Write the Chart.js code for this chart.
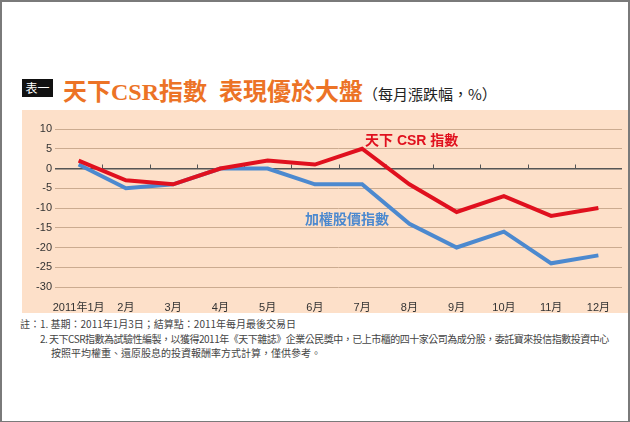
<!DOCTYPE html>
<html>
<head>
<meta charset="utf-8">
<script src="https://cdn.jsdelivr.net/npm/chart.js@4"></script>
<style>
  body { margin: 0; background: #fff; }
  #frame {
    position: relative; width: 630px; height: 422px; box-sizing: border-box;
    border: 2px solid #7a7a7a; border-bottom-width: 1px; background: #fff; overflow: hidden;
    font-family: "Liberation Sans", "Noto Sans CJK TC", sans-serif;
  }
  #tag {
    position: absolute; left: 20px; top: 77px; width: 31px; height: 18px;
    background: #111; color: #fff; font-size: 12px; line-height: 18px; text-align: center;
    font-family: "Noto Sans CJK TC", sans-serif;
  }
  #title {
    position: absolute; left: 61px; top: 75px; white-space: nowrap;
    color: #ec7326; font-size: 24px; font-weight: bold; line-height: 30px;
    font-family: "Liberation Serif", "Noto Sans CJK TC", serif;
  }
  #title small {
    color: #222; font-size: 15px; font-weight: normal;
    font-family: "Noto Sans CJK TC", sans-serif;
  }
  #panel {
    position: absolute; left: 20px; top: 108px; width: 610px; height: 203px; background: #fde0c9;
  }
  #chart { position: absolute; left: 0; top: 0; }
  .lbl {
    position: absolute; font-size: 14px; font-weight: bold; white-space: nowrap;
    font-family: "Liberation Sans", "Noto Sans CJK TC", sans-serif;
  }
  #notes {
    position: absolute; left: 18px; top: 315px; font-size: 10px; line-height: 14.5px; color: #444;
    font-family: "Noto Sans CJK TC", sans-serif; white-space: nowrap;
  }
</style>
</head>
<body>
<div id="frame">
  <div id="tag">表一</div>
  <div id="title">天下CSR指數&nbsp;&nbsp;表現優於大盤<small>（每月漲跌幅，%）</small></div>
  <div id="panel">
    <canvas id="chart" width="608" height="203"></canvas>
    <div class="lbl" style="left:343px; top:19px; color:#e0101e;">天下 CSR 指數</div>
    <div class="lbl" style="left:283px; top:98px; color:#4c89cf;">加權股價指數</div>
  </div>
  <div id="notes">
    <div>註：1. 基期：2011年1月3日；結算點：2011年每月最後交易日</div>
    <div style="padding-left:20px; letter-spacing:-0.5px;">2. 天下CSR指數為試驗性編製，以獲得2011年《天下雜誌》企業公民獎中，已上市櫃的四十家公司為成分股，委託寶來投信指數投資中心</div>
    <div style="padding-left:31px;">按照平均權重、還原股息的投資報酬率方式計算，僅供參考。</div>
  </div>
</div>
<script>
const months = ["2011年1月", "2月", "3月", "4月", "5月", "6月", "7月", "8月", "9月", "10月", "11月", "12月"];
const csrIndex = [2, -3, -4, 0, 2, 1, 5, -4, -11, -7, -12, -10];
const taiex = [1, -5, -4, 0, 0, -4, -4, -14, -20, -16, -24, -22];
const yTicks = [10, 5, 0, -5, -10, -15, -20, -25, -30];

// small upward ticks on the zero line, between months
const zeroTicks = {
  id: "zeroTicks",
  beforeDatasetsDraw(chart) {
    const x = chart.scales.x, y = chart.scales.y;
    const y0 = y.getPixelForValue(0);
    const c = chart.ctx;
    c.save();
    c.strokeStyle = "#555";
    c.lineWidth = 1;
    for (let i = 0; i < months.length - 1; i++) {
      const px = Math.round((x.getPixelForTick(i) + x.getPixelForTick(i + 1)) / 2) + 0.5;
      c.beginPath();
      c.moveTo(px, y0);
      c.lineTo(px, y0 - 4);
      c.stroke();
    }
    c.restore();
  },
};

new Chart(document.getElementById("chart"), {
  type: "line",
  data: {
    labels: months,
    datasets: [
      { label: "天下CSR指數", data: csrIndex, borderColor: "#e0101e", borderWidth: 4, pointRadius: 0, tension: 0 },
      { label: "加權股價指數", data: taiex, borderColor: "#4c89cf", borderWidth: 4, pointRadius: 0, tension: 0 },
    ],
  },
  options: {
    responsive: false,
    animation: false,
    devicePixelRatio: 1,
    layout: { padding: { top: 19, right: 8, left: 0, bottom: 0 } },
    plugins: { legend: { display: false }, tooltip: { enabled: false } },
    scales: {
      x: {
        offset: true,
        grid: { display: false },
        border: { display: false },
        ticks: { color: "#333", padding: 6, maxRotation: 0, autoSkip: false,
                 font: { size: 11, family: "'Liberation Sans', 'Noto Sans CJK TC'" } },
        afterFit: (s) => { s.height = 26; },
      },
      y: {
        min: -30,
        max: 10,
        afterBuildTicks: (s) => { s.ticks = yTicks.map((v) => ({ value: v })); },
        grid: {
          drawTicks: false,
          color: (ctx) => (ctx.tick && ctx.tick.value === 0 ? "#555" : "#cbab90"),
          lineWidth: (ctx) => (ctx.tick && ctx.tick.value === 0 ? 1.5 : 1),
        },
        border: { display: false },
        ticks: { color: "#333", padding: 3,
                 font: { size: 11, family: "'Liberation Sans', 'Noto Sans CJK TC'" } },
        afterFit: (s) => { s.width = 33; },
      },
    },
  },
  plugins: [zeroTicks],
});
</script>
</body>
</html>
